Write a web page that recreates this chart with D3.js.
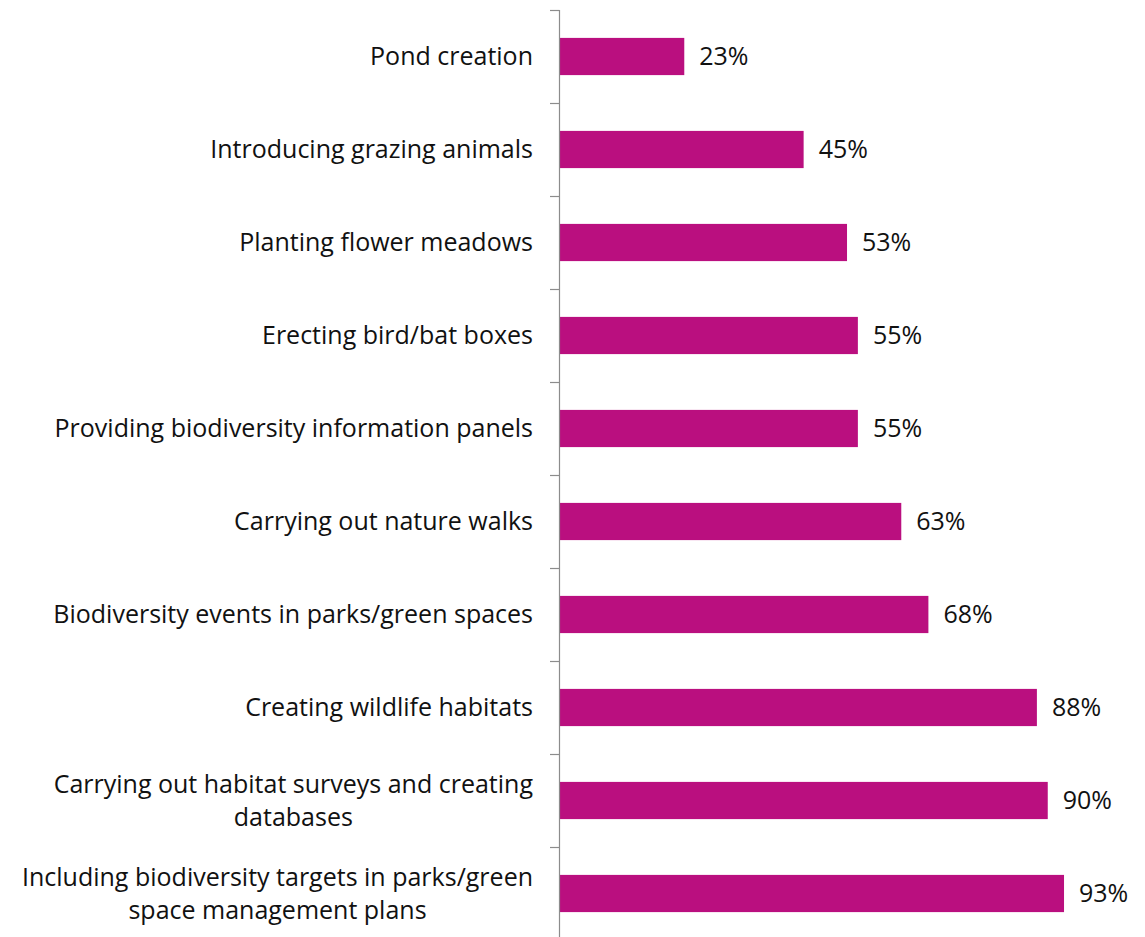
<!DOCTYPE html>
<html><head><meta charset="utf-8">
<script src="https://cdn.jsdelivr.net/npm/d3@7"></script>
<style>body{margin:0;background:#fff}svg{display:block}</style>
</head><body>
<svg id="c" width="1145" height="937"></svg>
<script>
const categories = [
  "Pond creation",
  "Introducing grazing animals",
  "Planting flower meadows",
  "Erecting bird/bat boxes",
  "Providing biodiversity information panels",
  "Carrying out nature walks",
  "Biodiversity events in parks/green spaces",
  "Creating wildlife habitats",
  "Carrying out habitat surveys and creating databases",
  "Including biodiversity targets in parks/green space management plans"
];
const values = [23, 45, 53, 55, 55, 63, 68, 88, 90, 93];
const labelLines = [
  ["Pond creation"],
  ["Introducing grazing animals"],
  ["Planting flower meadows"],
  ["Erecting bird/bat boxes"],
  ["Providing biodiversity information panels"],
  ["Carrying out nature walks"],
  ["Biodiversity events in parks/green spaces"],
  ["Creating wildlife habitats"],
  ["Carrying out habitat surveys and creating", "databases"],
  ["Including biodiversity targets in parks/green", "space management plans"]
];

const svg = d3.select("#c");
const font = "'Open Sans', sans-serif";
const fs = 25;
const x = d3.scaleLinear().domain([0, 100]).range([559.5, 1102]);
const y = d3.scaleBand().domain(categories).range([10, 940]).paddingInner(0.6).paddingOuter(0.3);

// bars
svg.selectAll("rect.bar").data(categories).join("rect")
  .attr("class", "bar")
  .attr("x", x(0))
  .attr("y", d => y(d))
  .attr("width", (d, i) => x(values[i]) - x(0))
  .attr("height", y.bandwidth())
  .attr("fill", "#BA0F7F");

// axis line and ticks
const band = d3.scaleBand().domain(categories).range([10, 940]);
svg.append("line").attr("x1", 559.5).attr("x2", 559.5).attr("y1", 10).attr("y2", 937)
  .attr("stroke", "#8c8c8c").attr("stroke-width", 1.2);
const tickYs = categories.map(c => band(c)).concat([940]);
svg.selectAll("line.tick").data(tickYs).join("line")
  .attr("class", "tick")
  .attr("x1", 550).attr("x2", 559.5)
  .attr("y1", d => Math.round(d) + 0.5).attr("y2", d => Math.round(d) + 0.5)
  .attr("stroke", "#8c8c8c").attr("stroke-width", 1.2);

// category labels (multi-line blocks right-aligned, lines centered within block)
const lh = 33;
const rightEdge = 533;
categories.forEach((c, i) => {
  const lines = labelLines[i];
  const cy = y(c) + y.bandwidth() / 2;
  const t = svg.append("text")
    .attr("font-family", font).attr("font-size", fs).attr("fill", "#111");
  const spans = lines.map((ln, j) => t.append("tspan")
      .attr("y", cy + (j - (lines.length - 1) / 2) * lh)
      .attr("dy", "0.35em").text(ln));
  if (lines.length === 1) {
    t.attr("text-anchor", "end");
    spans[0].attr("x", rightEdge);
  } else {
    const w = d3.max(spans, s => s.node().getComputedTextLength());
    t.attr("text-anchor", "middle");
    spans.forEach(s => s.attr("x", rightEdge - w / 2));
  }
});

// value labels
svg.selectAll("text.val").data(categories).join("text")
  .attr("class", "val")
  .attr("x", (d, i) => x(values[i]) + 15)
  .attr("y", d => y(d) + y.bandwidth() / 2)
  .attr("dy", "0.35em")
  .attr("font-family", font).attr("font-size", fs).attr("fill", "#111")
  .text((d, i) => values[i] + "%");
</script>
</body></html>
